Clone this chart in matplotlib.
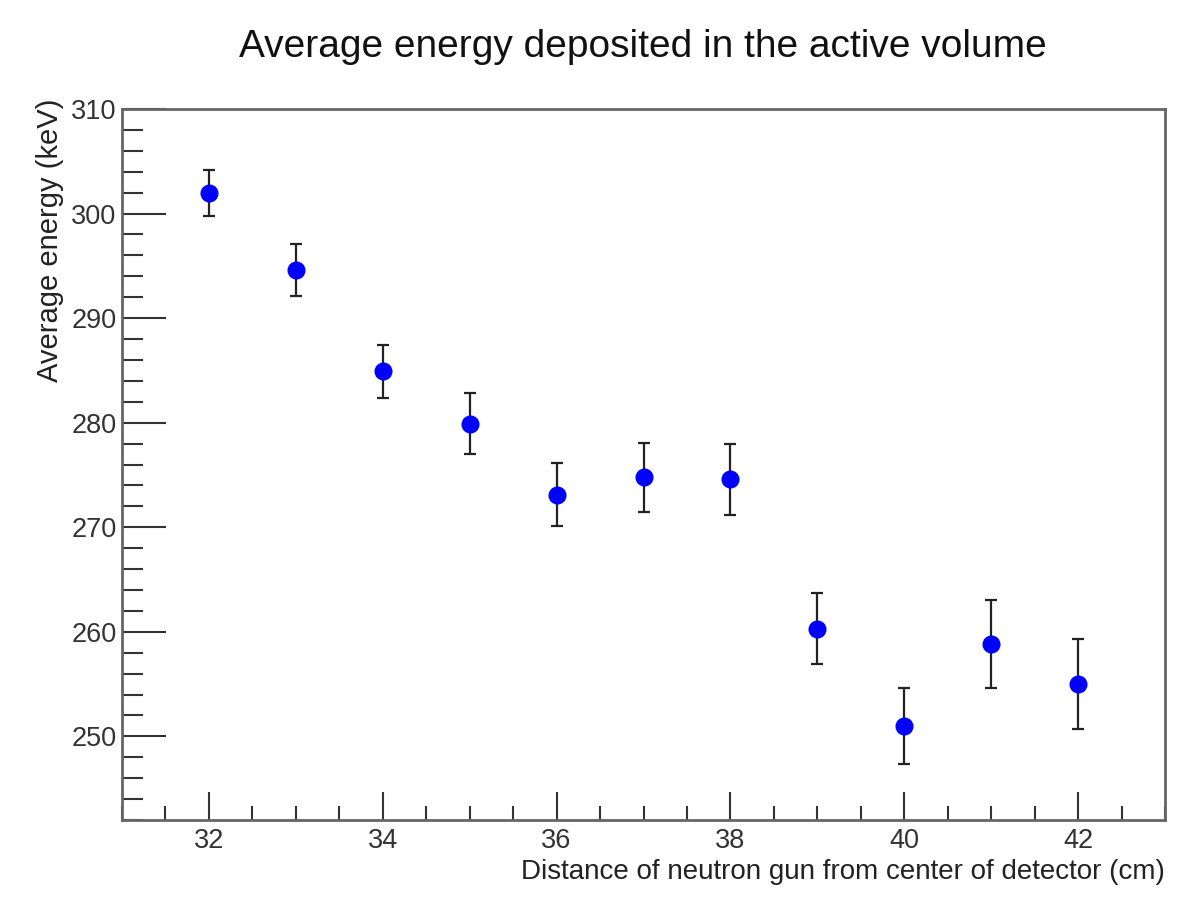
import numpy as np
import matplotlib
matplotlib.use("Agg")
import matplotlib.pyplot as plt
from matplotlib.ticker import MultipleLocator

plt.rcParams['font.family'] = ['Liberation Sans', 'DejaVu Sans']

# distance of the neutron gun (cm) and mean deposited energy (keV)
distance = [32, 33, 34, 35, 36, 37, 38, 39, 40, 41, 42]
energy = [302.0, 294.6, 284.9, 279.9, 273.1, 274.8, 274.6, 260.3, 251.0, 258.8, 255.0]
energy_err = [2.2, 2.5, 2.5, 2.9, 3.0, 3.3, 3.4, 3.4, 3.6, 4.2, 4.3]

fig = plt.figure(figsize=(11.79, 9.22), dpi=100)
ax = fig.add_axes([122/1179, 1 - 820/922, (1165-122)/1179, (820-109)/922])

ax.errorbar(distance, energy, yerr=energy_err, fmt="o", color="#0000ff",
            markersize=12, ecolor="#222222", elinewidth=1.6, capsize=4,
            capthick=1.6, zorder=3)

ax.set_xlim(31, 43)
ax.set_ylim(242, 310)
ax.xaxis.set_major_locator(MultipleLocator(2))
ax.xaxis.set_minor_locator(MultipleLocator(0.5))
ax.yaxis.set_major_locator(MultipleLocator(10))
ax.yaxis.set_minor_locator(MultipleLocator(2))

ax.tick_params(which="both", direction="in", colors="#333333", labelsize=19.5,
               top=False, right=False)
ax.tick_params(axis="y", which="major", length=32, width=1.5, pad=4)
ax.tick_params(axis="y", which="minor", length=15, width=1.5)
ax.tick_params(axis="x", which="major", length=20, width=1.5, pad=6)
ax.tick_params(axis="x", which="minor", length=10, width=1.5)
ax.set_yticks([250, 260, 270, 280, 290, 300, 310])

for sp in ax.spines.values():
    sp.set_color("#666666")
    sp.set_linewidth(2)

ax.set_xlabel("Distance of neutron gun from center of detector (cm)",
              fontsize=20, color="#222222", loc="right", labelpad=3)
ax.set_ylabel("Average energy (keV)", fontsize=21, color="#222222",
              loc="top", labelpad=8)
ax.yaxis.set_label_coords(-0.056, 1.015)
fig.text(0.545, 1 - 47/922, "Average energy deposited in the active volume",
         ha="center", va="center", fontsize=28, color="#111111")

fig.savefig("out.png", dpi=100)
